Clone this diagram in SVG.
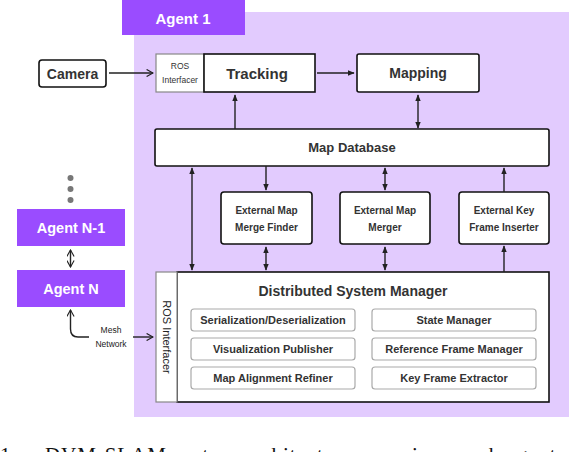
<svg xmlns="http://www.w3.org/2000/svg" width="572" height="452" viewBox="0 0 572 452">
<defs>
<style>
.t{font-family:"Liberation Sans",Arial,sans-serif;font-weight:bold;fill:#333;text-anchor:middle;dominant-baseline:central}
.w{fill:#fff}
.box{fill:#fff;stroke:#111;stroke-width:1.6}
.gbox{fill:#fff;stroke:#888;stroke-width:1.2}
.ibox{fill:#fff;stroke:#aaa;stroke-width:1.2}
.ln{stroke:#222;stroke-width:1.4;fill:none}
.agent{fill:#9a4cff}
</style>
<marker id="ah" viewBox="0 0 10 10" refX="9" refY="5" markerWidth="5" markerHeight="5" orient="auto-start-reverse"><path d="M0,1 L10,5 L0,9 Z" fill="#222"/></marker>
<marker id="oh" viewBox="0 0 10 10" refX="9" refY="5" markerWidth="8" markerHeight="8" orient="auto-start-reverse" markerUnits="userSpaceOnUse"><path d="M1,0.5 L9,5 L1,9.5" fill="none" stroke="#222" stroke-width="1.4"/></marker>
</defs>
<rect x="0" y="0" width="572" height="452" fill="#fff"/>

<g id="agent1">
<rect x="134" y="12" width="435" height="405" fill="#e2cbfe"/>
<rect x="122" y="0" width="123" height="35" class="agent"/>
<text x="183" y="18" class="t w" font-size="15">Agent 1</text>
</g>

<g id="camera">
<rect x="39" y="60" width="67" height="27" rx="3" class="box"/>
<text x="72.5" y="73.5" class="t" font-size="14">Camera</text>
</g>

<g id="ros-top">
<rect x="156" y="54" width="48" height="38" class="gbox"/>
<text x="180" y="66" class="t" font-size="8.5" style="font-weight:normal">ROS</text>
<text x="180" y="80" class="t" font-size="8.5" style="font-weight:normal">Interfacer</text>
</g>

<g id="tracking">
<rect x="204" y="54" width="111" height="38" class="box"/>
<text x="257" y="73" class="t" font-size="15">Tracking</text>
</g>

<g id="mapping">
<rect x="357" y="54" width="122" height="38" rx="2" class="box"/>
<text x="418" y="73" class="t" font-size="14">Mapping</text>
</g>

<g id="mapdb">
<rect x="155" y="129" width="394" height="37" rx="2" class="box"/>
<text x="352" y="147.5" class="t" font-size="13">Map Database</text>
</g>

<g id="emmf">
<rect x="221" y="192" width="91" height="52" rx="3" class="box"/>
<text x="266.5" y="210" class="t" font-size="10">External Map</text>
<text x="266.5" y="227" class="t" font-size="10">Merge Finder</text>
</g>

<g id="emm">
<rect x="340" y="192" width="90" height="52" rx="3" class="box"/>
<text x="385" y="210" class="t" font-size="10">External Map</text>
<text x="385" y="227" class="t" font-size="10">Merger</text>
</g>

<g id="ekfi">
<rect x="459" y="192" width="90" height="52" rx="3" class="box"/>
<text x="504" y="210" class="t" font-size="10">External Key</text>
<text x="504" y="227" class="t" font-size="10">Frame Inserter</text>
</g>

<g id="dsm">
<rect x="177" y="272" width="372" height="130" class="box" stroke-width="2"/>
<rect x="156" y="272" width="21" height="130" class="gbox"/>
<text x="167" y="337" class="t" font-size="11" transform="rotate(90 167 337)" style="font-weight:normal;fill:#222">ROS Interfacer</text>
<text x="353" y="291" class="t" font-size="14">Distributed System Manager</text>
<rect x="191" y="309" width="164" height="22" rx="3" class="ibox"/>
<text x="273" y="320" class="t" font-size="11">Serialization/Deserialization</text>
<rect x="191" y="338" width="164" height="22" rx="3" class="ibox"/>
<text x="273" y="349" class="t" font-size="11">Visualization Publisher</text>
<rect x="191" y="367" width="164" height="22" rx="3" class="ibox"/>
<text x="273" y="378" class="t" font-size="11">Map Alignment Refiner</text>
<rect x="372" y="309" width="164" height="22" rx="3" class="ibox"/>
<text x="454" y="320" class="t" font-size="11">State Manager</text>
<rect x="372" y="338" width="164" height="22" rx="3" class="ibox"/>
<text x="454" y="349" class="t" font-size="11">Reference Frame Manager</text>
<rect x="372" y="367" width="164" height="22" rx="3" class="ibox"/>
<text x="454" y="378" class="t" font-size="11">Key Frame Extractor</text>
</g>

<g id="dots" fill="#777">
<circle cx="70.5" cy="178" r="3"/>
<circle cx="70.5" cy="189" r="3"/>
<circle cx="70.5" cy="200" r="3"/>
</g>

<g id="agentN1">
<rect x="17" y="209" width="108" height="37" class="agent"/>
<text x="71" y="228" class="t w" font-size="14.5">Agent N-1</text>
</g>

<g id="agentN">
<rect x="17" y="270" width="108" height="37" class="agent"/>
<text x="71" y="289" class="t w" font-size="14.5">Agent N</text>
</g>

<g id="mesh">
<text x="111" y="330" class="t" font-size="8.5" style="font-weight:normal;fill:#222">Mesh</text>
<text x="111" y="344" class="t" font-size="8.5" style="font-weight:normal;fill:#222">Network</text>
</g>

<g id="connectors">
<line x1="109" y1="73" x2="153" y2="73" class="ln" marker-end="url(#oh)"/>
<line x1="317" y1="73" x2="354" y2="73" class="ln" marker-end="url(#ah)"/>
<line x1="235" y1="129" x2="235" y2="95" class="ln" marker-end="url(#ah)"/>
<line x1="418" y1="95" x2="418" y2="128" class="ln" stroke-width="1.8" marker-start="url(#ah)" marker-end="url(#ah)"/>
<line x1="192" y1="168" x2="192" y2="270" class="ln" marker-start="url(#ah)" marker-end="url(#ah)"/>
<line x1="266" y1="166" x2="266" y2="190" class="ln" stroke-width="1.8" marker-end="url(#ah)"/>
<line x1="385" y1="168" x2="385" y2="190" class="ln" marker-start="url(#ah)" marker-end="url(#ah)"/>
<line x1="504" y1="192" x2="504" y2="168" class="ln" marker-end="url(#ah)"/>
<line x1="266" y1="247" x2="266" y2="270" class="ln" stroke-width="1.8" marker-start="url(#ah)" marker-end="url(#ah)"/>
<line x1="385" y1="247" x2="385" y2="270" class="ln" marker-start="url(#ah)" marker-end="url(#ah)"/>
<line x1="504" y1="272" x2="504" y2="246" class="ln" marker-end="url(#ah)"/>
<line x1="70.5" y1="250" x2="70.5" y2="267" class="ln" stroke-width="1.6" marker-start="url(#oh)" marker-end="url(#oh)"/>
<path d="M89,337 L78,337 Q70.5,337 70.5,329 L70.5,310" class="ln" stroke-width="1.6" marker-end="url(#oh)"/>
<line x1="133" y1="337" x2="153" y2="337" class="ln" stroke-width="1.6" marker-end="url(#oh)"/>
</g>

<g id="caption" font-family="'Liberation Serif','Times New Roman',serif" font-size="21" fill="#111">
<text x="0" y="462">1.</text>
<text x="45" y="462" textLength="527" lengthAdjust="spacing">DVM-SLAM system architecture overview: each agent c</text>
</g>
</svg>
